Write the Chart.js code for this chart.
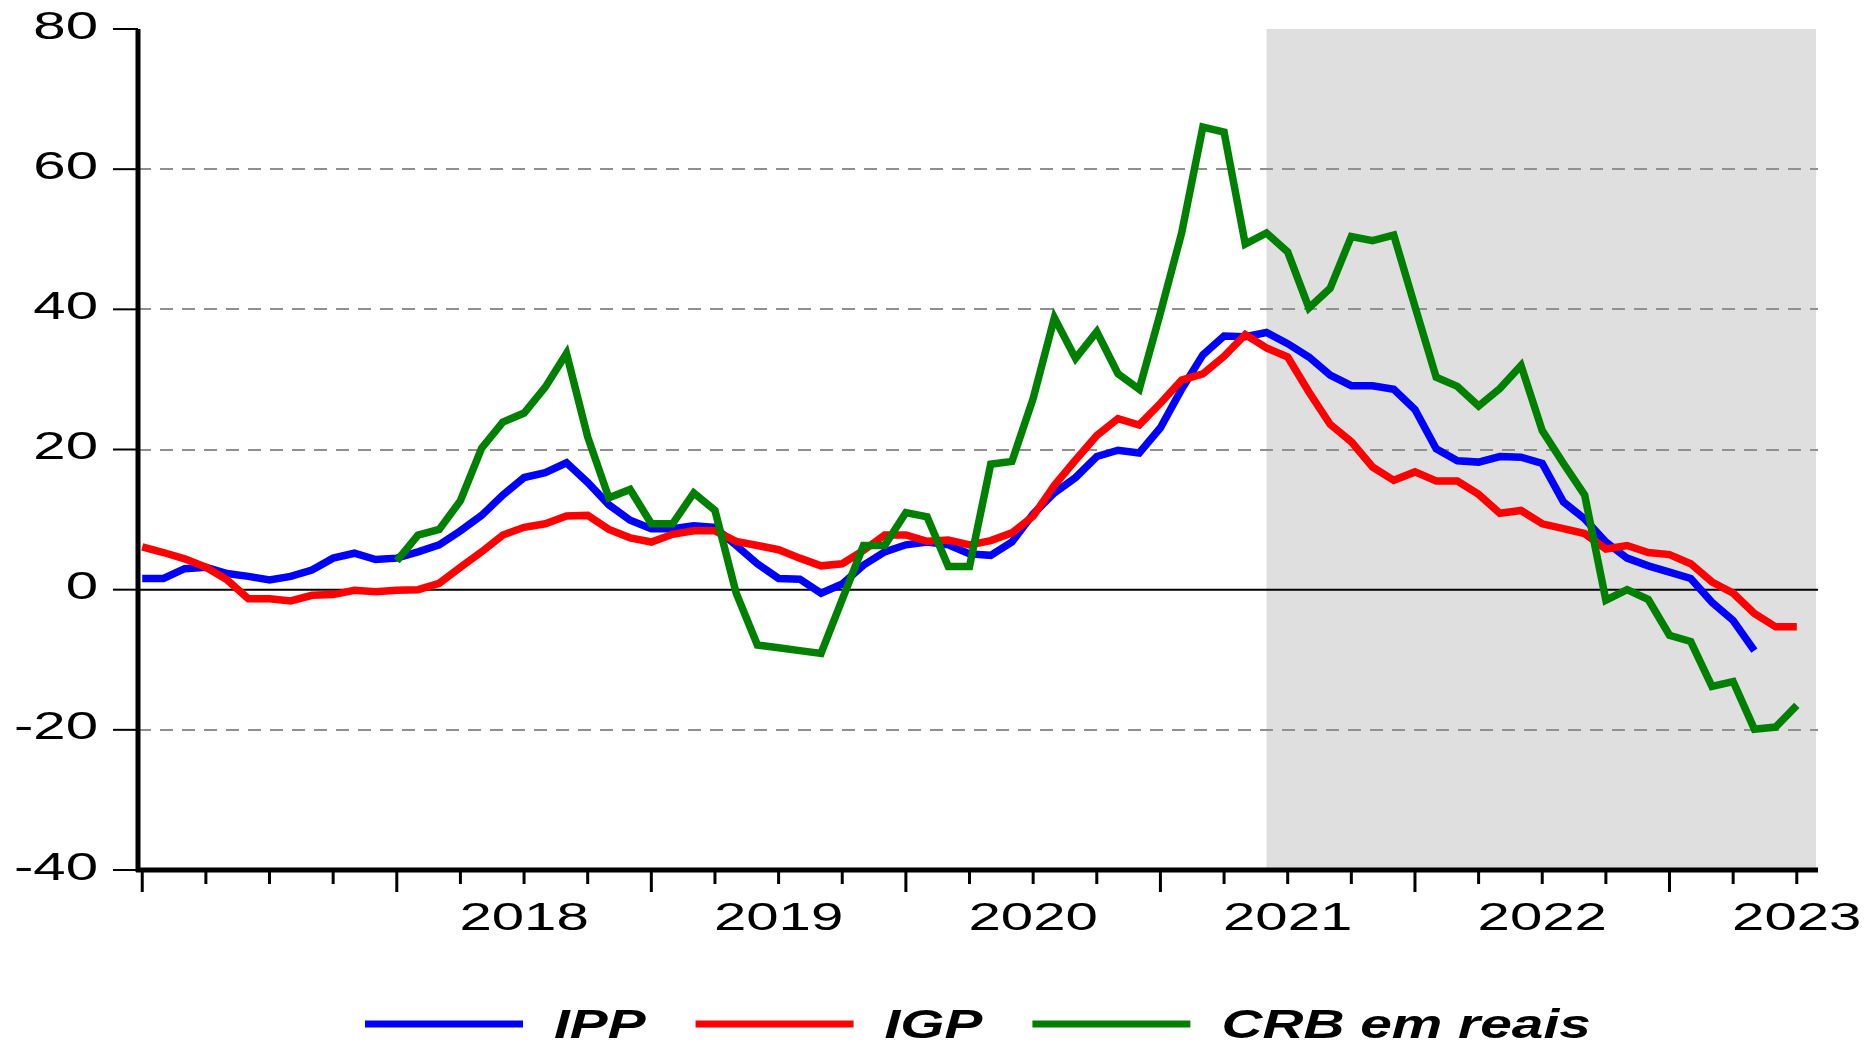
<!DOCTYPE html>
<html lang="pt-BR">
<head>
<meta charset="utf-8">
<title>IPP, IGP e CRB em reais</title>
<script src="https://cdn.jsdelivr.net/npm/chart.js@4.4.1/dist/chart.umd.min.js"></script>
<style>
  html, body { margin: 0; padding: 0; background: #fff; }
  #grafico { display: block; }
</style>
</head>
<body>
<canvas id="grafico" width="1876" height="1045"></canvas>
<script>
// meses de 2017-01 a 2023-07
const meses = [];
for (let ano = 2017; ano <= 2023; ano++) {
  for (let m = 1; m <= 12; m++) {
    if (ano === 2023 && m > 7) break;
    meses.push(`${ano}-${String(m).padStart(2, "0")}`);
  }
}

const ipp = [
  1.6, 1.6, 3.0, 3.2, 2.3, 1.9, 1.4, 1.9, 2.8, 4.5, 5.2, 4.3,
  4.5, 5.4, 6.4, 8.4, 10.6, 13.5, 16.0, 16.7, 18.1, 15.3, 12.1, 9.9,
  8.7, 8.7, 9.1, 8.9, 6.3, 3.7, 1.6, 1.5, -0.5, 0.8, 3.5, 5.4,
  6.4, 6.8, 6.4, 5.1, 4.9, 6.8, 10.8, 13.8, 16.0, 19.0, 19.9, 19.5,
  23.1, 28.6, 33.5, 36.2, 36.1, 36.7, 35.1, 33.2, 30.6, 29.1, 29.1, 28.6,
  25.7, 20.1, 18.4, 18.2, 19.0, 18.9, 18.0, 12.5, 10.1, 6.8, 4.5, 3.4,
  2.5, 1.6, -1.8, -4.4, -8.7, null, null,
];

const igp = [
  6.1, 5.3, 4.4, 3.2, 1.4, -1.3, -1.3, -1.6, -0.8, -0.7, -0.1, -0.3,
  -0.1, 0.0, 0.9, 3.2, 5.4, 7.8, 8.9, 9.4, 10.5, 10.6, 8.6, 7.4,
  6.8, 7.9, 8.4, 8.4, 6.9, 6.3, 5.7, 4.5, 3.4, 3.7, 5.6, 7.8,
  7.8, 6.9, 7.1, 6.4, 7.0, 8.1, 10.5, 14.9, 18.5, 22.0, 24.4, 23.5,
  26.6, 29.9, 30.8, 33.3, 36.4, 34.5, 33.2, 28.2, 23.6, 21.1, 17.5, 15.6,
  16.8, 15.5, 15.5, 13.6, 10.9, 11.3, 9.4, 8.7, 8.0, 5.8, 6.3, 5.3,
  5.0, 3.7, 1.1, -0.5, -3.4, -5.3, -5.3,
];

const crb = [
  null, null, null, null, null, null, null, null, null, null, null, null,
  4.1, 7.8, 8.6, 12.7, 20.2, 23.9, 25.2, 28.9, 33.7, 21.8, 13.1, 14.3,
  9.4, 9.4, 13.8, 11.3, -0.5, -7.9, -8.3, -8.7, -9.1, -1.4, 6.3, 6.3,
  11.0, 10.4, 3.3, 3.3, 17.9, 18.3, 27.3, 38.8, 33.0, 36.8, 30.8, 28.6,
  39.5, 50.9, 66.0, 65.3, 49.3, 50.9, 48.2, 40.2, 43.0, 50.4, 49.8, 50.6,
  40.4, 30.3, 29.0, 26.2, 28.7, 32.0, 22.7, 18.0, 13.5, -1.5, 0.0, -1.4,
  -6.5, -7.4, -13.8, -13.1, -19.9, -19.6, -16.5,
];

const rotulosAno = ["2018", "2019", "2020", "2021", "2022", "2023"];
const ticksY = [80, 60, 40, 20, 0, -20, -40];
const inicioSombra = "2021-06";

const FONTE = "'Liberation Sans', Arial, sans-serif";
const ESTICA = 1.53;

const pontos = (serie) => serie.map((v, i) => ({ x: i, y: v }));

const textoEsticado = (ctx, texto, x, y, fator) => {
  ctx.save();
  ctx.translate(x, y);
  ctx.scale(fator, 1);
  ctx.fillText(texto, 0, 0);
  ctx.restore();
};

const molduraEViews = {
  id: "molduraEViews",
  beforeDraw(chart) {
    const { ctx, chartArea: a, scales } = chart;
    const x0 = scales.x.getPixelForValue(meses.indexOf(inicioSombra));
    ctx.save();
    ctx.fillStyle = "#dfdfdf";
    ctx.fillRect(x0, a.top, a.right - 2 - x0, a.bottom - a.top);
    ctx.restore();
  },
  beforeDatasetsDraw(chart) {
    const { ctx, chartArea: a, scales } = chart;
    const y0 = scales.y.getPixelForValue(0);
    ctx.save();
    ctx.strokeStyle = "#000";
    ctx.lineWidth = 2;
    ctx.beginPath();
    ctx.moveTo(a.left, y0);
    ctx.lineTo(a.right, y0);
    ctx.stroke();
    ctx.restore();
  },
  afterDraw(chart) {
    const { ctx, chartArea: a, scales } = chart;
    const { x, y } = scales;
    ctx.save();
    ctx.strokeStyle = "#000";
    ctx.fillStyle = "#000";

    // eixos
    ctx.lineWidth = 5;
    ctx.beginPath();
    ctx.moveTo(a.left, a.top);
    ctx.lineTo(a.left, a.bottom + 2);
    ctx.moveTo(a.left - 2, a.bottom);
    ctx.lineTo(a.right, a.bottom);
    ctx.stroke();

    // ticks e rótulos do eixo y
    ctx.lineWidth = 2;
    ctx.font = `38px ${FONTE}`;
    ctx.textAlign = "right";
    ctx.textBaseline = "alphabetic";
    ticksY.forEach((v) => {
      const py = y.getPixelForValue(v);
      ctx.beginPath();
      ctx.moveTo(a.left - 25, py);
      ctx.lineTo(a.left, py);
      ctx.stroke();
      textoEsticado(ctx, String(v), a.left - 40, py + 9.5, ESTICA);
    });

    // ticks trimestrais do eixo x
    ctx.lineWidth = 3;
    meses.forEach((mes, i) => {
      const m = Number(mes.slice(5));
      if ((m - 1) % 3 !== 0) return;
      const px = x.getPixelForValue(i);
      ctx.beginPath();
      ctx.moveTo(px, a.bottom);
      ctx.lineTo(px, a.bottom + (m === 1 ? 22 : 14));
      ctx.stroke();
    });

    // rótulos dos anos, centrados em julho
    ctx.textAlign = "center";
    rotulosAno.forEach((ano) => {
      const px = x.getPixelForValue(meses.indexOf(`${ano}-07`));
      textoEsticado(ctx, ano, px, a.bottom + 60, ESTICA);
    });

    // legenda
    ctx.font = `italic bold 40px ${FONTE}`;
    ctx.textAlign = "left";
    let lx = 365;
    const ly = 1024;
    chart.data.datasets.forEach((ds) => {
      ctx.strokeStyle = ds.borderColor;
      ctx.lineWidth = 7;
      ctx.beginPath();
      ctx.moveTo(lx, ly);
      ctx.lineTo(lx + 158, ly);
      ctx.stroke();
      const tx = lx + 158 + 31;
      textoEsticado(ctx, ds.label, tx, ly + 14, 1.42);
      lx = tx + ctx.measureText(ds.label).width * 1.42 + 50;
    });
    ctx.restore();
  },
};

new Chart(document.getElementById("grafico"), {
  type: "line",
  data: {
    datasets: [
      { label: "IPP", data: pontos(ipp), borderColor: "#0000ff", order: 3 },
      { label: "IGP", data: pontos(igp), borderColor: "#ff0000", order: 2 },
      { label: "CRB em reais", data: pontos(crb), borderColor: "#008000", order: 1 },
    ],
  },
  options: {
    responsive: false,
    animation: false,
    devicePixelRatio: 1,
    layout: { padding: { left: 138, top: 29, right: 58, bottom: 167 } },
    elements: {
      line: { borderWidth: 7.5, tension: 0 },
      point: { radius: 0, hoverRadius: 0 },
    },
    plugins: { legend: { display: false }, tooltip: { enabled: false } },
    scales: {
      x: {
        type: "linear",
        min: -0.2,
        max: 79,
        ticks: { display: false },
        grid: { display: false },
        border: { display: false },
      },
      y: {
        min: -40,
        max: 80,
        ticks: { display: false, stepSize: 20 },
        grid: {
          drawTicks: false,
          lineWidth: 2,
          color: (c) =>
            [0, 80, -40].includes(c.tick.value) ? "rgba(0,0,0,0)" : "#909090",
        },
        border: { display: false, dash: [13, 9] },
      },
    },
  },
  plugins: [molduraEViews],
});
</script>
</body>
</html>
